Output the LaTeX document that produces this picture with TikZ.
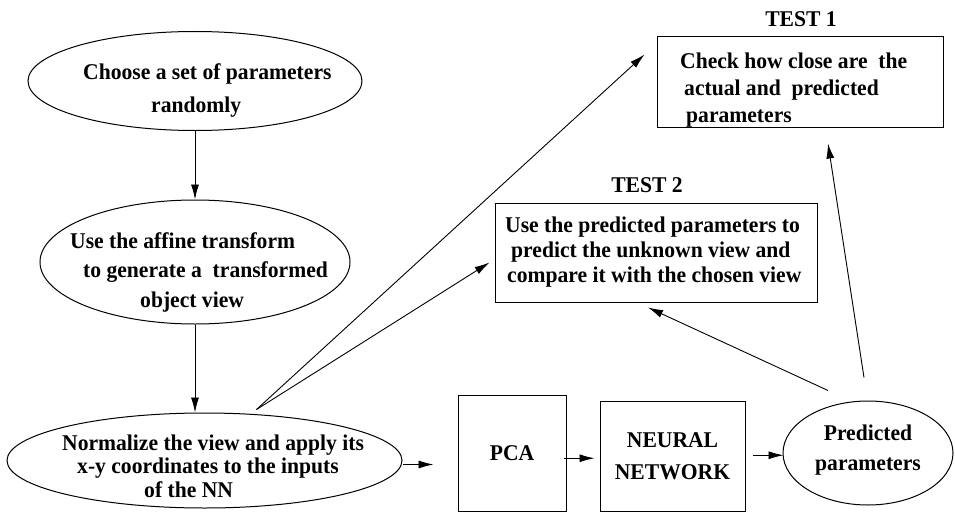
\documentclass[tikz,border=0pt]{standalone}
\usepackage{fontspec}
\setmainfont{Liberation Serif}[FakeStretch=0.96]
\usetikzlibrary{arrows.meta,shapes.geometric}
\newcommand\topstrut{\rule{0pt}{16pt}}
\begin{document}
\begin{tikzpicture}[x=1pt,y=-1pt,
  every node/.style={inner sep=0pt},
  ell/.style={draw, ellipse, line width=1pt},
  box/.style={draw, rectangle, line width=1pt},
  ft/.style={font=\bfseries\fontsize{22.5}{#1}\selectfont},
  txt/.style={align=left, anchor=north west},
  arr/.style={-{Latex[length=15pt,width=8pt]}, line width=0.9pt}]
\useasboundingbox (0,0) rectangle (955,511);

% ellipses
\node[ell, minimum width=334pt, minimum height=99pt] (e1) at (195,81) {};
\node[ell, minimum width=310pt, minimum height=124pt] (e2) at (195,262) {};
\node[ell, minimum width=395pt, minimum height=95pt] (e3) at (204.5,460.5) {};
\node[ell, minimum width=170pt, minimum height=104pt] (pred) at (868,453) {};

% boxes
\node[box, minimum width=286pt, minimum height=90pt] (t1) at (800,82) {};
\node[box, minimum width=322pt, minimum height=99pt] (t2) at (656,252.5) {};
\node[box, ft=25, minimum width=108pt, minimum height=116.5pt] (pca) at (512,453.25) {PCA};
\node[box, ft=32, align=center, minimum width=145pt, minimum height=110.5pt] (nn) at (672.5,456.25) {NEURAL\\NETWORK};

% texts
\node[txt, ft=33] (e1t) at (83,63) {\topstrut Choose a set of parameters\\\hspace*{68pt}randomly};
\node[txt, ft=29.5] (e2t) at (70,232) {\topstrut Use the affine transform\\\hspace*{13pt}to generate a~ transformed\\\hspace*{70pt}object view};
\node[txt, ft=23.5] (e3t) at (62,434) {\topstrut Normalize the view and apply its\\\hspace*{15pt}x-y coordinates to the inputs\\\hspace*{82pt}of the NN};
\node[txt, ft=27] (t1t) at (680,52) {\topstrut Check how close are~ the\\\hspace*{4pt}actual and~ predicted\\\hspace*{6pt}parameters};
\node[txt, ft=25] (t2t) at (505,216) {\topstrut Use the predicted parameters to\\\hspace*{6pt}predict the unknown view and\\\hspace*{2pt}compare it with the chosen view};
\node[ft=30, align=center, anchor=north] (predt) at (868,424) {\topstrut Predicted\\parameters};
\node[ft=25, anchor=base] (l1) at (801,27) {TEST 1};
\node[ft=25, anchor=base] (l2) at (647,192) {TEST 2};

% connectors
\coordinate (src) at ([xshift=52pt,yshift=3pt]e3.north);
\draw[arr] (e1.south) -- (e2.north);
\draw[arr] (e2.south) -- (e2.south |- e3.north);
\draw[arr] ([yshift=-4pt]e3.east) -- ++(31,0);
\draw[arr] ([xshift=-3pt,yshift=-5pt]pca.east) -- ++(31,0);
\draw[arr] ([xshift=7pt,yshift=1pt]nn.east) -- ++(31,0);
\draw[arr] ([xshift=-40pt,yshift=10pt]pred.north) -- ([xshift=-8pt,yshift=-5pt]t2.south);
\draw[arr] ([xshift=-4pt,yshift=23pt]pred.north) -- ([xshift=28pt,yshift=-16pt]t1.south);
\draw[arr] (src) -- ([xshift=-12pt,yshift=-18pt]t1.north west);
\draw[arr] (src) -- ([xshift=-5pt,yshift=-10pt]t2.west);
\end{tikzpicture}
\end{document}
